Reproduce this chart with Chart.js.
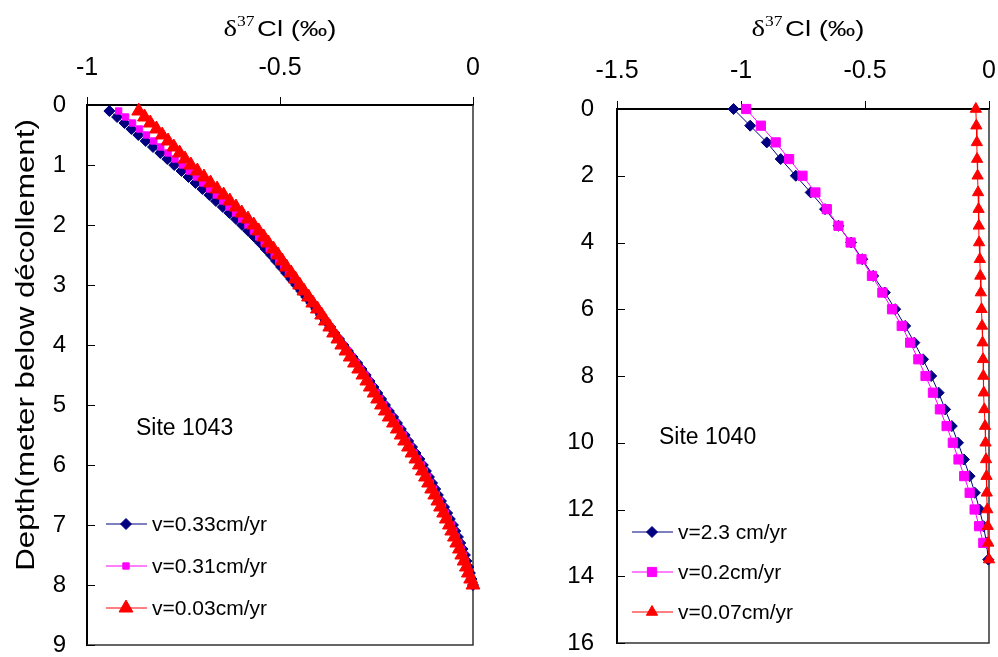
<!DOCTYPE html>
<html>
<head>
<meta charset="utf-8">
<script src="https://cdn.jsdelivr.net/npm/chart.js@4.4.1/dist/chart.umd.min.js"></script>
<style>
    body { margin: 0; background: #fff; }
    canvas { position: absolute; top: 0; }
    #site1043 { left: 0; }
    #site1040 { left: 500px; }
</style>
</head>
<body>
<canvas id="site1043" width="500" height="657"></canvas>
<canvas id="site1040" width="498" height="657"></canvas>
<script>
// Site 1043: depth (m below décollement) and modelled d37Cl for three velocities
const depth1043 = [
    0.1, 0.2, 0.3, 0.4, 0.5, 0.6, 0.7, 0.8, 0.9, 1.0,
    1.1, 1.2, 1.3, 1.4, 1.5, 1.6, 1.7, 1.8, 1.9, 2.0,
    2.1, 2.2, 2.3, 2.4, 2.5, 2.6, 2.7, 2.8, 2.9, 3.0,
    3.1, 3.2, 3.3, 3.4, 3.5, 3.6, 3.7, 3.8, 3.9, 4.0,
    4.1, 4.2, 4.3, 4.4, 4.5, 4.6, 4.7, 4.8, 4.9, 5.0,
    5.1, 5.2, 5.3, 5.4, 5.5, 5.6, 5.7, 5.8, 5.9, 6.0,
    6.1, 6.2, 6.3, 6.4, 6.5, 6.6, 6.7, 6.8, 6.9, 7.0,
    7.1, 7.2, 7.3, 7.4, 7.5, 7.6, 7.7, 7.8, 7.9, 8.0
];
const cl1043v033 = [
    -0.942, -0.922, -0.903, -0.885, -0.867, -0.848, -0.829, -0.810, -0.792, -0.774,
    -0.755, -0.737, -0.719, -0.701, -0.683, -0.666, -0.648, -0.631, -0.614, -0.598,
    -0.582, -0.566, -0.551, -0.537, -0.523, -0.510, -0.497, -0.484, -0.471, -0.458,
    -0.445, -0.432, -0.419, -0.406, -0.394, -0.382, -0.370, -0.359, -0.347, -0.336,
    -0.324, -0.312, -0.300, -0.289, -0.278, -0.268, -0.258, -0.248, -0.238, -0.228,
    -0.218, -0.207, -0.197, -0.187, -0.177, -0.168, -0.158, -0.149, -0.139, -0.130,
    -0.122, -0.114, -0.106, -0.098, -0.091, -0.083, -0.075, -0.067, -0.060, -0.052,
    -0.046, -0.039, -0.033, -0.027, -0.021, -0.017, -0.012, -0.008, -0.004, 0.000
];
const cl1043v031 = [
    -0.918, -0.900, -0.882, -0.864, -0.846, -0.827, -0.809, -0.790, -0.772, -0.753,
    -0.735, -0.717, -0.700, -0.682, -0.665, -0.648, -0.632, -0.615, -0.599, -0.583,
    -0.569, -0.555, -0.541, -0.528, -0.515, -0.503, -0.490, -0.478, -0.465, -0.453,
    -0.441, -0.428, -0.416, -0.404, -0.392, -0.381, -0.370, -0.359, -0.348, -0.337,
    -0.325, -0.314, -0.302, -0.291, -0.280, -0.270, -0.261, -0.251, -0.242, -0.232,
    -0.222, -0.212, -0.201, -0.191, -0.181, -0.172, -0.162, -0.153, -0.143, -0.134,
    -0.126, -0.118, -0.111, -0.103, -0.095, -0.087, -0.079, -0.072, -0.064, -0.056,
    -0.050, -0.044, -0.037, -0.031, -0.025, -0.020, -0.015, -0.010, -0.005, 0.000
];
const cl1043v003 = [
    -0.866, -0.851, -0.836, -0.820, -0.805, -0.790, -0.775, -0.760, -0.746, -0.731,
    -0.714, -0.697, -0.680, -0.663, -0.646, -0.630, -0.614, -0.599, -0.583, -0.568,
    -0.555, -0.542, -0.530, -0.517, -0.505, -0.494, -0.483, -0.471, -0.460, -0.449,
    -0.438, -0.426, -0.415, -0.403, -0.392, -0.382, -0.371, -0.361, -0.350, -0.340,
    -0.329, -0.318, -0.307, -0.296, -0.285, -0.275, -0.266, -0.256, -0.247, -0.237,
    -0.227, -0.217, -0.206, -0.196, -0.186, -0.177, -0.167, -0.158, -0.148, -0.139,
    -0.131, -0.123, -0.115, -0.107, -0.099, -0.091, -0.084, -0.076, -0.069, -0.061,
    -0.055, -0.048, -0.042, -0.035, -0.029, -0.023, -0.017, -0.012, -0.006, 0.000
];

// Site 1040
const depth1040 = [
    0, 0.5, 1, 1.5, 2, 2.5, 3, 3.5, 4, 4.5, 5, 5.5, 6, 6.5,
    7, 7.5, 8, 8.5, 9, 9.5, 10, 10.5, 11, 11.5, 12, 12.5, 13, 13.5
];
const cl1040v23 = [
    -1.030, -0.963, -0.896, -0.840, -0.779, -0.719, -0.661, -0.607, -0.556, -0.511,
    -0.467, -0.420, -0.378, -0.338, -0.301, -0.266, -0.233, -0.203, -0.177, -0.150,
    -0.125, -0.101, -0.078, -0.057, -0.038, -0.022, -0.010, -0.003
];
const cl1040v02 = [
    -0.979, -0.920, -0.860, -0.806, -0.752, -0.700, -0.654, -0.607, -0.558, -0.514,
    -0.472, -0.430, -0.391, -0.352, -0.318, -0.285, -0.256, -0.226, -0.198, -0.171,
    -0.146, -0.123, -0.100, -0.078, -0.058, -0.040, -0.023
];
const cl1040v007 = [
    -0.053, -0.051, -0.049, -0.048, -0.046, -0.044, -0.042, -0.041, -0.040, -0.037,
    -0.035, -0.033, -0.030, -0.028, -0.026, -0.024, -0.023, -0.021, -0.019, -0.016,
    -0.014, -0.012, -0.010, -0.009, -0.007, -0.005, -0.003, 0.000
];

const FONT = '"Liberation Sans", Arial, sans-serif';
const SERIF = '"Liberation Serif", "Times New Roman", serif';
const NAVY = '#000080';
const MAGENTA = '#FF00FF';
const RED = '#FF0000';

function toPoints(depths, values) {
    return values.map((v, i) => ({ x: v, y: depths[i] }));
}

// box round the plot and the short inward ticks on the depth axis
const framePlugin = {
    id: 'frame',
    beforeDatasetsDraw(chart) {
        const { ctx, chartArea: a } = chart;
        const y = chart.scales.y;
        ctx.save();
        ctx.strokeStyle = '#333';
        ctx.lineWidth = 1.5;
        ctx.beginPath();
        ctx.moveTo(a.right, a.top);
        ctx.lineTo(a.right, a.bottom);
        ctx.lineTo(a.left, a.bottom);
        ctx.stroke();
        ctx.strokeStyle = '#000';
        ctx.lineWidth = 1;
        y.ticks.forEach(t => {
            const py = Math.round(y.getPixelForValue(t.value)) + 0.5;
            ctx.beginPath();
            ctx.moveTo(a.left, py);
            ctx.lineTo(a.left + 8, py);
            ctx.stroke();
        });
        ctx.restore();
    }
};

function drawDeltaTitle(ctx, cx, baseY) {
    const parts = [
        { t: '\u03B4', f: '23px ' + SERIF, dy: 0, gap: 0 },
        { t: '37', f: '14px ' + SERIF, dy: -10, gap: 2 },
        { t: 'Cl (\u2030)', f: '22px ' + FONT, dy: 0, gap: 0 }
    ];
    let total = 0;
    parts.forEach(p => { ctx.font = p.f; p.w = ctx.measureText(p.t).width; total += p.w + p.gap; });
    ctx.save();
    ctx.translate(cx, baseY);
    ctx.scale(1.25, 1);
    ctx.fillStyle = '#000';
    ctx.textAlign = 'left';
    ctx.textBaseline = 'alphabetic';
    let x = -total / 2;
    parts.forEach(p => {
        ctx.font = p.f;
        ctx.fillText(p.t, x, p.dy);
        x += p.w + p.gap;
    });
    ctx.restore();
}

// legend inside the plot, site label and axis titles
const notesPlugin = {
    id: 'notes',
    afterDraw(chart, args, o) {
        const ctx = chart.ctx;
        ctx.save();
        chart.data.datasets.forEach((ds, i) => {
            const y = o.legendY[i];
            ctx.strokeStyle = ds.borderColor;
            ctx.fillStyle = ds.backgroundColor;
            ctx.lineWidth = 1;
            ctx.beginPath();
            ctx.moveTo(o.legendX, y);
            ctx.lineTo(o.legendX + 41, y);
            ctx.stroke();
            Chart.helpers.drawPoint(ctx, {
                pointStyle: ds.pointStyle, radius: ds.pointRadius, rotation: 0, borderWidth: 1
            }, o.legendX + 20, y);
            ctx.fillStyle = '#000';
            ctx.font = '21px ' + FONT;
            ctx.textAlign = 'left';
            ctx.textBaseline = 'middle';
            ctx.fillText(ds.label, o.legendX + 46, y + 1);
        });
        ctx.font = '23px ' + FONT;
        ctx.fillText(o.site, o.siteX, o.siteY);

        drawDeltaTitle(ctx, o.titleX, 36);

        if (o.depthTitle) {
            ctx.save();
            ctx.translate(27, 345);
            ctx.rotate(-Math.PI / 2);
            ctx.scale(1.25, 1);
            ctx.font = '25px ' + FONT;
            ctx.textAlign = 'center';
            ctx.textBaseline = 'middle';
            ctx.fillText(o.depthTitle, 0, 0);
            ctx.restore();
        }
        ctx.restore();
    }
};

function makeChart(id, sets, opt) {
    const canvas = document.getElementById(id);
    const area = opt.area;
    return new Chart(canvas, {
        type: 'scatter',
        data: {
            datasets: sets.map((s, i) => ({
                label: s.label,
                data: toPoints(s.depth, s.values),
                showLine: true,
                borderColor: s.color,
                backgroundColor: s.color,
                borderWidth: 1,
                pointStyle: s.style,
                pointRadius: s.radius,
                pointBorderWidth: 1,
                order: sets.length - i,
                clip: false
            }))
        },
        options: {
            responsive: false,
            animation: false,
            layout: {
                padding: { left: 0, top: 0, right: canvas.width - area.right, bottom: canvas.height - area.bottom }
            },
            plugins: {
                legend: { display: false },
                tooltip: { enabled: false },
                notes: opt.notes
            },
            scales: {
                x: {
                    type: 'linear',
                    position: 'top',
                    min: opt.xMin,
                    max: 0,
                    ticks: {
                        stepSize: 0.5,
                        color: '#000',
                        padding: opt.xPad,
                        font: { family: FONT, size: 25, lineHeight: 1 },
                        callback: v => String(Math.round(v * 100) / 100)
                    },
                    grid: { drawOnChartArea: false, drawTicks: true, tickLength: 8, color: '#000', lineWidth: 1 },
                    border: { display: true, color: '#000', width: 2 },
                    afterFit(s) {
                        s.height = area.top;
                        s.paddingLeft = 0;
                        s.paddingRight = 0;
                    }
                },
                y: {
                    type: 'linear',
                    reverse: true,
                    min: 0,
                    max: opt.yMax,
                    ticks: {
                        stepSize: opt.yStep,
                        color: '#000',
                        padding: opt.yPad,
                        font: { family: FONT, size: 24, lineHeight: 1 }
                    },
                    grid: { drawOnChartArea: false, drawTicks: false },
                    border: { display: true, color: '#000', width: 2 },
                    afterFit(s) {
                        s.width = area.left;
                        s.paddingTop = 0;
                        s.paddingBottom = 0;
                    }
                }
            }
        },
        plugins: [framePlugin, notesPlugin]
    });
}

makeChart('site1043', [
    { label: 'v=0.33cm/yr', depth: depth1043, values: cl1043v033, color: NAVY, style: 'rectRot', radius: 5.5 },
    { label: 'v=0.31cm/yr', depth: depth1043, values: cl1043v031, color: MAGENTA, style: 'rect', radius: 4.5 },
    { label: 'v=0.03cm/yr', depth: depth1043, values: cl1043v003, color: RED, style: 'triangle', radius: 8 }
], {
    area: { left: 87, right: 473, top: 105, bottom: 645 },
    xMin: -1, yMax: 9, yStep: 1, xPad: 16, yPad: 21,
    notes: {
        legendX: 106, legendY: [524, 566, 608],
        site: 'Site 1043', siteX: 136, siteY: 429,
        titleX: 280,
        depthTitle: 'Depth(meter below d\u00E9collement)'
    }
});

makeChart('site1040', [
    { label: 'v=2.3 cm/yr', depth: depth1040, values: cl1040v23, color: NAVY, style: 'rectRot', radius: 5.5 },
    { label: 'v=0.2cm/yr', depth: depth1040, values: cl1040v02, color: MAGENTA, style: 'rect', radius: 6.5 },
    { label: 'v=0.07cm/yr', depth: depth1040, values: cl1040v007, color: RED, style: 'triangle', radius: 6.5 }
], {
    area: { left: 117, right: 489, top: 109, bottom: 643 },
    xMin: -1.5, yMax: 16, yStep: 2, xPad: 17, yPad: 23,
    notes: {
        legendX: 132, legendY: [532, 572, 612],
        site: 'Site 1040', siteX: 159, siteY: 438,
        titleX: 308,
        depthTitle: null
    }
});
</script>
</body>
</html>
